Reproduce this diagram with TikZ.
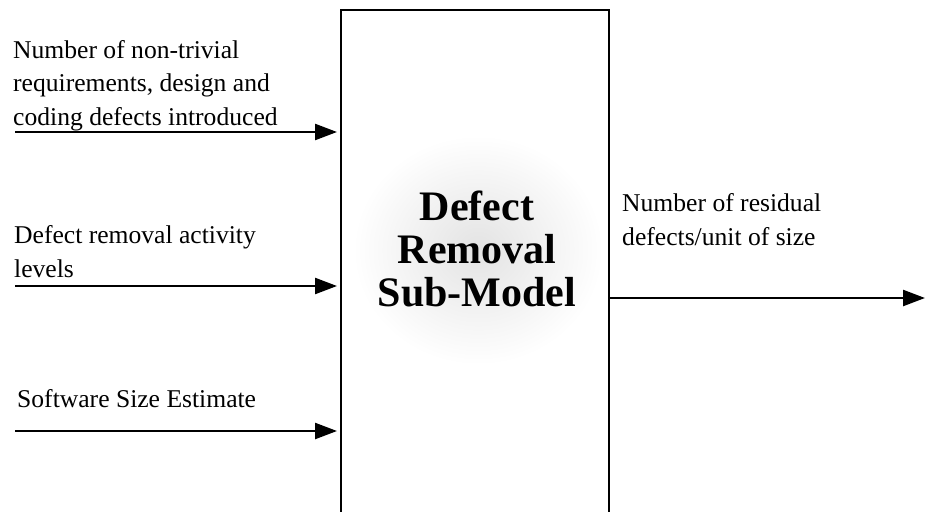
\documentclass[tikz,border=0pt]{standalone}
\usepackage{fontspec}
\setmainfont{Liberation Serif}
\usetikzlibrary{arrows.meta}
\tikzset{
  lbl/.style={anchor=base west, inner sep=0pt, align=left, font=\fontsize{25.6}{33.5}\selectfont},
  title/.style={anchor=center, inner sep=0pt, align=center, font=\fontsize{42}{43}\selectfont\bfseries},
  flow/.style={line width=2.4pt, -{Triangle[length=22pt, width=16pt]}},
  modelbox/.style={draw, line width=2.8pt, fill=none}
}
\begin{document}
\begin{tikzpicture}[x=1pt, y=-1pt]
\useasboundingbox (0,0) rectangle (925,511);
% faint mottled shading inside the box
\shade[inner color=gray!22, outer color=white] (478,250) ellipse [x radius=125, y radius=115];
\draw[modelbox] (341,530) -- (341,10) -- (609,10) -- (609,530);
\node[title] (model) at (477,249) {Defect\\Removal\\Sub-Model};
% inputs (base anchor = last line baseline)
\node[lbl] (t1) at (13,125) {Number of non-trivial\\requirements, design and\\coding defects introduced};
\node[lbl] (t2) at (14,277) {Defect removal activity\\levels};
\node[lbl] (t3) at (17,407) {Software Size Estimate};
\node[lbl] (t4) at (622,245) {Number of residual\\defects/unit of size};
\coordinate (a1s) at (15,132); \coordinate (a1e) at (337,132);
\coordinate (a2s) at (15,286); \coordinate (a2e) at (337,286);
\coordinate (a3s) at (15,431); \coordinate (a3e) at (337,431);
\coordinate (a4s) at (609,298); \coordinate (a4e) at (925,298);
\draw[flow] (a1s) -- (a1e);
\draw[flow] (a2s) -- (a2e);
\draw[flow] (a3s) -- (a3e);
\draw[flow] (a4s) -- (a4e);
\end{tikzpicture}
\end{document}
